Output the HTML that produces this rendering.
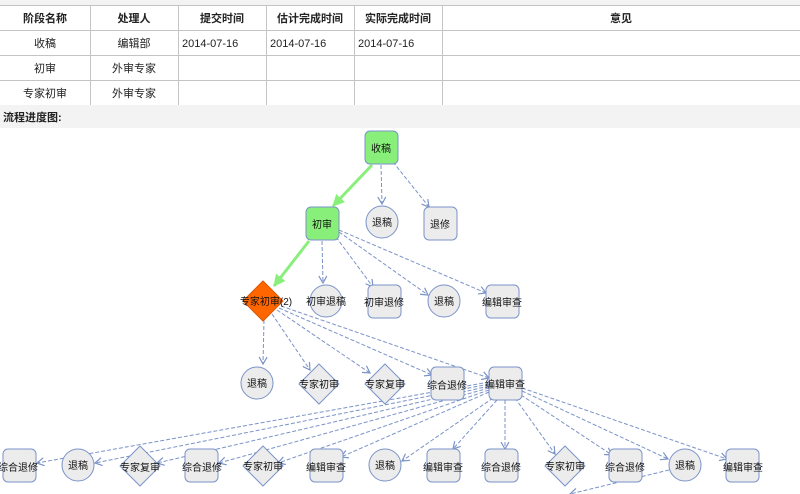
<!DOCTYPE html>
<html><head><meta charset="utf-8"><style>
html,body{margin:0;padding:0;background:#fff;}
svg{display:block;font-family:"Liberation Sans","Noto Sans CJK SC",sans-serif;}
</style></head><body>
<svg width="800" height="494" viewBox="0 0 800 494" xmlns="http://www.w3.org/2000/svg">
<defs>
<marker id="a" markerWidth="10" markerHeight="10" refX="8" refY="5" orient="auto" markerUnits="userSpaceOnUse"><path d="M1,1 L8,5 L1,9" fill="none" stroke="#7b93c8" stroke-width="1.2"/></marker>
<marker id="g" markerWidth="14" markerHeight="14" refX="11" refY="7" orient="auto" markerUnits="userSpaceOnUse"><path d="M0,1 L12,7 L0,13 Z" fill="#88f07a"/></marker>
</defs>
<rect x="0" y="0" width="800" height="5" fill="#f3f3f3"/>
<rect x="0" y="105" width="800" height="23" fill="#f3f3f3"/>
<g stroke="#c4c4c4" stroke-width="1">
<line x1="0" y1="5.5" x2="800" y2="5.5"/><line x1="0" y1="30.5" x2="800" y2="30.5"/><line x1="0" y1="55.5" x2="800" y2="55.5"/><line x1="0" y1="80.5" x2="800" y2="80.5"/>
<line x1="90.5" y1="5" x2="90.5" y2="105"/><line x1="178.5" y1="5" x2="178.5" y2="105"/><line x1="266.5" y1="5" x2="266.5" y2="105"/><line x1="354.5" y1="5" x2="354.5" y2="105"/><line x1="442.5" y1="5" x2="442.5" y2="105"/>
</g>
<g font-size="11" fill="#222" text-anchor="middle">
<g font-weight="bold"><text x="45" y="22">阶段名称</text><text x="134" y="22">处理人</text><text x="222" y="22">提交时间</text><text x="310" y="22">估计完成时间</text><text x="398" y="22">实际完成时间</text><text x="621" y="22">意见</text></g>
<text x="45" y="47">收稿</text><text x="134" y="47">编辑部</text>
<text x="45" y="72">初审</text><text x="134" y="72">外审专家</text>
<text x="45" y="97">专家初审</text><text x="134" y="97">外审专家</text>
</g>
<g font-size="11" fill="#222"><text x="182" y="47">2014-07-16</text><text x="270" y="47">2014-07-16</text><text x="358" y="47">2014-07-16</text></g>
<text x="3" y="121" font-size="11" font-weight="bold" fill="#222">流程进度图:</text>

<!-- edges -->
<g stroke="#7b93c8" stroke-width="1" stroke-dasharray="4,2" fill="none" marker-end="url(#a)">
<line x1="381" y1="165" x2="382" y2="204"/>
<line x1="393" y1="162" x2="429" y2="207"/>
<line x1="322" y1="241" x2="323" y2="283"/>
<line x1="336" y1="237" x2="373" y2="287"/>
<line x1="339" y1="232" x2="428" y2="295"/>
<line x1="339" y1="230" x2="486" y2="293"/>
<line x1="264" y1="320" x2="263" y2="364"/>
<line x1="272" y1="314" x2="310" y2="370"/>
<line x1="277" y1="310" x2="370" y2="373"/>
<line x1="279" y1="308" x2="432" y2="375"/>
<line x1="281" y1="306" x2="489" y2="378"/>
<line x1="489" y1="382" x2="37" y2="463"/>
<line x1="489" y1="384" x2="95" y2="463"/>
<line x1="489" y1="386" x2="157" y2="463"/>
<line x1="489" y1="388" x2="219" y2="463"/>
<line x1="489" y1="390" x2="278" y2="463"/>
<line x1="489" y1="392" x2="341" y2="457"/>
<line x1="493" y1="398" x2="402" y2="461"/>
<line x1="497" y1="400" x2="453" y2="449"/>
<line x1="505" y1="400" x2="505" y2="449"/>
<line x1="515" y1="398" x2="555" y2="454"/>
<line x1="521" y1="395" x2="612" y2="455"/>
<line x1="522" y1="391" x2="668" y2="459"/>
<line x1="522" y1="388" x2="727" y2="459"/>
<line x1="669" y1="470" x2="570" y2="494" marker-end=""/>
</g>
<g stroke="#88f07a" stroke-width="3" fill="none" marker-end="url(#g)">
<line x1="372" y1="165" x2="333" y2="206"/>
<line x1="309" y1="241" x2="274" y2="286"/>
</g>

<!-- nodes -->
<g stroke="#7b93c8" stroke-width="1" fill="#ececec">
<rect x="365" y="131" width="33" height="33" rx="5" fill="#88f07a"/>
<rect x="306" y="207" width="33" height="33" rx="5" fill="#88f07a"/>
<circle cx="382" cy="222" r="16"/>
<rect x="424" y="207" width="33" height="33" rx="5"/>
<polygon points="263,281 283,301 263,321 243,301" fill="#ff6600" stroke="#dd5500"/>
<circle cx="326" cy="301" r="16"/>
<rect x="368" y="285" width="33" height="33" rx="5"/>
<circle cx="444" cy="301" r="16"/>
<rect x="486" y="285" width="33" height="33" rx="5"/>
<circle cx="257" cy="383" r="16"/>
<polygon points="319,364 339,384 319,404 299,384"/>
<polygon points="385,364 405,384 385,404 365,384"/>
<rect x="431" y="367" width="33" height="33" rx="5"/>
<rect x="489" y="367" width="33" height="33" rx="5"/>
<rect x="3" y="449" width="33" height="33" rx="5"/>
<circle cx="78" cy="465" r="16"/>
<polygon points="140,446 160,466 140,486 120,466"/>
<rect x="185" y="449" width="33" height="33" rx="5"/>
<polygon points="263,446 283,466 263,486 243,466"/>
<rect x="310" y="449" width="33" height="33" rx="5"/>
<circle cx="385" cy="465" r="16"/>
<rect x="427" y="449" width="33" height="33" rx="5"/>
<rect x="485" y="449" width="33" height="33" rx="5"/>
<polygon points="565,446 585,466 565,486 545,466"/>
<rect x="609" y="449" width="33" height="33" rx="5"/>
<circle cx="685" cy="465" r="16"/>
<rect x="726" y="449" width="33" height="33" rx="5"/>
</g>
<g font-size="10" fill="#111" text-anchor="middle">
<text x="381" y="152">收稿</text>
<text x="322" y="228">初审</text>
<text x="382" y="226">退稿</text>
<text x="440" y="228">退修</text>
<text x="266" y="305">专家初审(2)</text>
<text x="326" y="305">初审退稿</text>
<text x="384" y="306">初审退修</text>
<text x="444" y="305">退稿</text>
<text x="502" y="306">编辑审查</text>
<text x="257" y="387">退稿</text>
<text x="319" y="388">专家初审</text>
<text x="385" y="388">专家复审</text>
<text x="447" y="389">综合退修</text>
<text x="505" y="388">编辑审查</text>
<text x="18" y="471">综合退修</text>
<text x="78" y="469">退稿</text>
<text x="140" y="471">专家复审</text>
<text x="202" y="471">综合退修</text>
<text x="263" y="470">专家初审</text>
<text x="326" y="471">编辑审查</text>
<text x="385" y="469">退稿</text>
<text x="443" y="471">编辑审查</text>
<text x="501" y="471">综合退修</text>
<text x="565" y="470">专家初审</text>
<text x="625" y="471">综合退修</text>
<text x="685" y="469">退稿</text>
<text x="743" y="471">编辑审查</text>
</g>
</svg>
</body></html>
